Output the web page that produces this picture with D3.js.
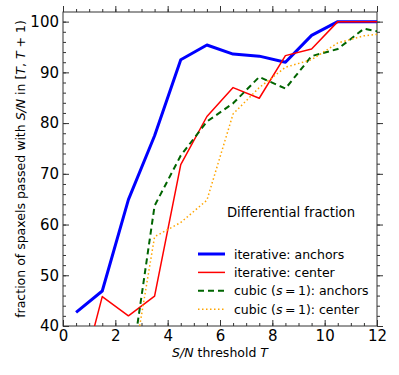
<!DOCTYPE html>
<html>
<head>
<meta charset="utf-8">
<script src="https://cdn.jsdelivr.net/npm/d3@7"></script>
<style>
body { margin: 0; background: #fff; }
text { font-family: "DejaVu Sans", sans-serif; fill: #000; }
</style>
</head>
<body>
<div id="chart-area"></div>
<script>
// threshold bins, plotted at bin centre T + 0.5 (last one gets clipped at 12)
const thresholds = [0.5, 1.5, 2.5, 3.5, 4.5, 5.5, 6.5, 7.5, 8.5, 9.5, 10.5, 11.5, 12.5];
const iterAnchors = [42.7, 46.9, 64.9, 77.5, 92.5, 95.4, 93.6, 93.2, 92.0, 97.3, 100, 100, 100];
const iterCenter = [26, 45.8, 42.0, 45.9, 71.8, 81.3, 87.0, 84.9, 93.3, 94.6, 100, 100, 100];
const cubicAnchors = [28, 30, 28, 63.7, 73.6, 80.3, 83.9, 89.1, 86.8, 93.2, 94.6, 98.6, 97.6];
const cubicCenter = [20, 22, 26.7, 57.6, 60.4, 64.8, 81.8, 87.0, 91.0, 92.5, 95.8, 97.2, 97.8];
const seriesNames = ["iterative: anchors", "iterative: center", "cubic (s = 1): anchors", "cubic (s = 1): center"];
const xTicks = [0, 2, 4, 6, 8, 10, 12];
const yTicks = [40, 50, 60, 70, 80, 90, 100];

var margin = { top: 12, right: 22, bottom: 49, left: 63 };
var width = 399 - margin.left - margin.right,
	height = 375 - margin.top - margin.bottom;

var svg = d3.select("#chart-area")
	.append("svg")
		.attr("width", 399)
		.attr("height", 375);

var g = svg.append("g")
	.attr("transform", "translate(" + margin.left + ", " + margin.top + ")");

var x = d3.scaleLinear().domain([0, 12]).range([0, width]);
var y = d3.scaleLinear().domain([40, 101.9]).range([height, 0]);

g.append("clipPath").attr("id", "clip")
	.append("rect").attr("width", width).attr("height", height);

// ticks pointing inward on all four sides
function ticks(axis, scale, vals, len, withLabels) {
	return axis(scale).tickValues(vals).tickSizeInner(-len).tickSizeOuter(0)
		.tickFormat(withLabels ? d3.format("d") : "");
}
var xMinor = d3.range(0, 12.01, 0.5);
var yMinor = d3.range(40, 101, 2);

function styleAxis(sel, showText) {
	sel.select(".domain").remove();
	sel.selectAll("line").attr("stroke", "#333").attr("stroke-width", 1);
	sel.selectAll("text").style("font-size", "15px");
	if (!showText) sel.selectAll("text").remove();
}

g.append("g").attr("transform", "translate(0," + height + ")")
	.call(ticks(d3.axisBottom, x, xMinor, 3, false)).call(styleAxis, false);
g.append("g").attr("transform", "translate(0," + height + ")")
	.call(ticks(d3.axisBottom, x, xTicks, 6, true).tickPadding(4)).call(styleAxis, true);
g.append("g")
	.call(ticks(d3.axisTop, x, xMinor, -3, false)).call(styleAxis, false);
g.append("g")
	.call(ticks(d3.axisTop, x, xTicks, -6, false)).call(styleAxis, false);

g.append("g")
	.call(ticks(d3.axisLeft, y, yMinor, 3, false)).call(styleAxis, false);
g.append("g")
	.call(ticks(d3.axisLeft, y, yTicks, 6, true).tickPadding(4)).call(styleAxis, true);
g.append("g").attr("transform", "translate(" + width + ",0)")
	.call(ticks(d3.axisRight, y, yMinor, -3, false)).call(styleAxis, false);
g.append("g").attr("transform", "translate(" + width + ",0)")
	.call(ticks(d3.axisRight, y, yTicks, -6, false)).call(styleAxis, false);

// frame
g.append("rect")
	.attr("width", width).attr("height", height)
	.attr("fill", "none").attr("stroke", "#333").attr("stroke-width", 1);

var series = [
	{ vals: iterAnchors, color: "#0000ff", w: 3, dash: null },
	{ vals: iterCenter, color: "#ff0000", w: 1.5, dash: null },
	{ vals: cubicAnchors, color: "#006400", w: 2, dash: "6,4" },
	{ vals: cubicCenter, color: "#ffa500", w: 1.5, dash: "1.5,2.5" }
];

var line = d3.line()
	.x((d, i) => x(thresholds[i]))
	.y((d) => y(d));

var plot = g.append("g").attr("clip-path", "url(#clip)");
series.forEach((s) => {
	plot.append("path")
		.attr("d", line(s.vals))
		.attr("fill", "none")
		.attr("stroke", s.color)
		.attr("stroke-width", s.w)
		.attr("stroke-dasharray", s.dash)
		.attr("stroke-linejoin", "round");
});

// legend
var leg = g.append("g");
leg.append("text")
	.attr("x", 291 - margin.left)
	.attr("y", 217 - margin.top)
	.attr("text-anchor", "middle")
	.style("font-size", "13.2px")
	.text("Differential fraction");

series.forEach((s, i) => {
	var cy = 254 + i * 18.4 - margin.top;
	leg.append("line")
		.attr("x1", 198 - margin.left).attr("x2", 225 - margin.left)
		.attr("y1", cy).attr("y2", cy)
		.attr("stroke", s.color)
		.attr("stroke-width", s.w)
		.attr("stroke-dasharray", s.dash);
	var t = leg.append("text")
		.attr("x", 234 - margin.left)
		.attr("y", cy + 4.5)
		.style("font-size", "12.5px");
	if (i < 2) {
		t.text(seriesNames[i]);
	} else {
		var parts = seriesNames[i].split("s = 1");
		t.append("tspan").text(parts[0]);
		t.append("tspan").style("font-style", "italic").text("s");
		t.append("tspan").text("\u2009=\u20091");
		t.append("tspan").text(parts[1]);
	}
});

// x label
var xl = svg.append("text")
	.attr("x", 220)
	.attr("y", 357)
	.attr("text-anchor", "middle")
	.style("font-size", "12.5px");
xl.append("tspan").style("font-style", "italic").text("S/N");
xl.append("tspan").text(" threshold ");
xl.append("tspan").style("font-style", "italic").text("T");

// y label
var yl = svg.append("text")
	.attr("transform", "translate(25," + (margin.top + height / 2) + ") rotate(-90)")
	.attr("text-anchor", "middle")
	.style("font-size", "12.5px");
yl.append("tspan").text("fraction of spaxels passed with ");
yl.append("tspan").style("font-style", "italic").text("S/N");
yl.append("tspan").text(" in [");
yl.append("tspan").style("font-style", "italic").text("T");
yl.append("tspan").text(", ");
yl.append("tspan").style("font-style", "italic").text("T");
yl.append("tspan").text(" + 1)");
</script>
</body>
</html>
